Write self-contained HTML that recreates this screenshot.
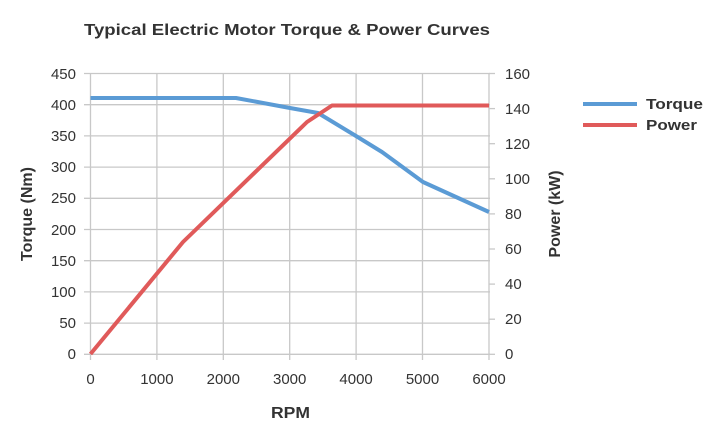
<!DOCTYPE html><html><head><style>body{margin:0;background:#fff}svg text{font-family:"Liberation Sans",sans-serif;fill:#333}</style></head><body>
<svg width="723" height="438" xmlns="http://www.w3.org/2000/svg">
<rect width="723" height="438" fill="#fff"/>
<text x="84" y="35" font-size="16" font-weight="bold" fill="#111" textLength="406" lengthAdjust="spacingAndGlyphs">Typical Electric Motor Torque &amp; Power Curves</text>
<g stroke="#c8c8c8" stroke-width="1.3">
<line x1="84" y1="73.5" x2="490" y2="73.5"/><line x1="84" y1="104.7" x2="490" y2="104.7"/><line x1="84" y1="135.9" x2="490" y2="135.9"/><line x1="84" y1="167.1" x2="490" y2="167.1"/><line x1="84" y1="198.3" x2="490" y2="198.3"/><line x1="84" y1="229.5" x2="490" y2="229.5"/><line x1="84" y1="260.7" x2="490" y2="260.7"/><line x1="84" y1="291.9" x2="490" y2="291.9"/><line x1="84" y1="323.1" x2="490" y2="323.1"/><line x1="84" y1="354.3" x2="490" y2="354.3"/>
<line x1="90.5" y1="73.5" x2="90.5" y2="360"/><line x1="156.9" y1="73.5" x2="156.9" y2="360"/><line x1="223.3" y1="73.5" x2="223.3" y2="360"/><line x1="289.7" y1="73.5" x2="289.7" y2="360"/><line x1="356.1" y1="73.5" x2="356.1" y2="360"/><line x1="422.5" y1="73.5" x2="422.5" y2="360"/><line x1="489" y1="73.5" x2="489" y2="360"/>
<line x1="489" y1="73.5" x2="495" y2="73.5"/><line x1="489" y1="108.6" x2="495" y2="108.6"/><line x1="489" y1="143.7" x2="495" y2="143.7"/><line x1="489" y1="178.8" x2="495" y2="178.8"/><line x1="489" y1="213.9" x2="495" y2="213.9"/><line x1="489" y1="249" x2="495" y2="249"/><line x1="489" y1="284.1" x2="495" y2="284.1"/><line x1="489" y1="319.2" x2="495" y2="319.2"/><line x1="489" y1="354.3" x2="495" y2="354.3"/>
</g>
<g font-size="15" text-anchor="end">
<text x="76" y="79">450</text><text x="76" y="110">400</text><text x="76" y="141">350</text><text x="76" y="172">300</text><text x="76" y="203">250</text><text x="76" y="235">200</text><text x="76" y="266">150</text><text x="76" y="297">100</text><text x="76" y="328">50</text><text x="76" y="359">0</text>
</g>
<g font-size="15" text-anchor="start">
<text x="505" y="79">160</text><text x="505" y="114">140</text><text x="505" y="149">120</text><text x="505" y="184">100</text><text x="505" y="219">80</text><text x="505" y="254">60</text><text x="505" y="289">40</text><text x="505" y="324">20</text><text x="505" y="359">0</text>
</g>
<g font-size="15" text-anchor="middle">
<text x="90.5" y="384">0</text><text x="156.9" y="384">1000</text><text x="223.3" y="384">2000</text><text x="289.7" y="384">3000</text><text x="356.1" y="384">4000</text><text x="422.5" y="384">5000</text><text x="489" y="384">6000</text>
</g>
<text x="271" y="418" font-size="16" font-weight="bold" fill="#111" textLength="39" lengthAdjust="spacingAndGlyphs">RPM</text>
<text transform="translate(32,214) rotate(-90)" text-anchor="middle" font-size="16" font-weight="bold" fill="#111">Torque (Nm)</text>
<text transform="translate(560,214) rotate(-90)" text-anchor="middle" font-size="16" font-weight="bold" fill="#111">Power (kW)</text>
<polyline fill="none" stroke="#5b9bd5" stroke-width="4" stroke-linejoin="round" points="90.5,98 236,98 290,108 318,113 356,136 382,152 423,182 489,212"/>
<polyline fill="none" stroke="#e05a5a" stroke-width="4" stroke-linejoin="round" points="90.5,354 183,242 307,122 332,105.5 489,105.5"/>
<line x1="583" y1="104" x2="637" y2="104" stroke="#5b9bd5" stroke-width="4"/>
<line x1="583" y1="125" x2="637" y2="125" stroke="#e05a5a" stroke-width="4"/>
<text x="646" y="109" font-size="15" font-weight="bold" fill="#111" textLength="57" lengthAdjust="spacingAndGlyphs">Torque</text>
<text x="646" y="130" font-size="15" font-weight="bold" fill="#111" textLength="51" lengthAdjust="spacingAndGlyphs">Power</text>
</svg></body></html>
